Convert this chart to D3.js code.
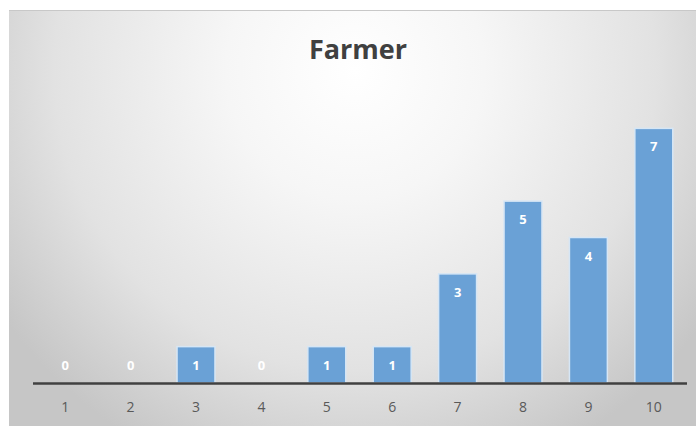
<!DOCTYPE html>
<html><head><meta charset="utf-8">
<script src="https://cdn.jsdelivr.net/npm/d3@7"></script>
<style>html,body{margin:0;padding:0;background:#fff;}svg{display:block;}</style>
</head><body>
<svg id="c" width="696" height="426"></svg>
<script>
const categories = ["1","2","3","4","5","6","7","8","9","10"];
const values = [0,0,1,0,1,1,3,5,4,7];
const title = "Farmer";

const W = 696, H = 426;
const svg = d3.select("#c");
const defs = svg.append("defs");
const g = defs.append("radialGradient").attr("id","bg")
  .attr("gradientUnits","userSpaceOnUse")
  .attr("cx",355).attr("cy",70).attr("r",430).attr("fx",355).attr("fy",70);
g.append("stop").attr("offset","0%").attr("stop-color","#ffffff");
g.append("stop").attr("offset","30%").attr("stop-color","#f6f6f6");
g.append("stop").attr("offset","70%").attr("stop-color","#e2e2e2");
g.append("stop").attr("offset","100%").attr("stop-color","#c6c6c6");

svg.append("rect").attr("x",9).attr("y",10).attr("width",W-9).attr("height",H-10)
  .attr("fill","url(#bg)");
svg.append("line").attr("x1",9).attr("x2",W).attr("y1",10.5).attr("y2",10.5)
  .attr("stroke","#c8c8c8").attr("stroke-width",1);

const x = d3.scaleBand().domain(categories).range([32.5, 686.5]).paddingInner(0.42).paddingOuter(0.21);
const y = d3.scaleLinear().domain([0, 8]).range([383, 92]);

svg.append("text").attr("x", 358).attr("y", 59).attr("text-anchor","middle")
  .attr("font-family","'Open Sans', 'Noto Sans', sans-serif").attr("font-weight","bold")
  .attr("font-size", 27).attr("fill","#404040").text(title);

svg.selectAll("rect.bar").data(values).join("rect").attr("class","bar")
  .attr("x",(d,i)=>x(categories[i])).attr("width",x.bandwidth())
  .attr("y",d=>y(d)).attr("height",d=>y(0)-y(d))
  .attr("fill","#6aa1d6").attr("stroke","#d6e6f5").attr("stroke-width",1.5)
  .attr("display",d=>d>0?null:"none");

svg.selectAll("text.lbl").data(values).join("text").attr("class","lbl")
  .attr("x",(d,i)=>x(categories[i])+x.bandwidth()/2)
  .attr("y",d=>Math.min(y(d), y(1))+23)
  .attr("text-anchor","middle").attr("font-family","'Open Sans', sans-serif")
  .attr("font-weight","bold").attr("font-size",13).attr("fill","#ffffff").text(d=>d);

const axis = d3.axisBottom(x).tickSize(0).tickPadding(19);
const ag = svg.append("g").attr("transform",`translate(0,${y(0)})`).call(axis);
ag.select(".domain").attr("stroke","#404040").attr("stroke-width",2.5);
ag.selectAll("text").attr("font-family","'Open Sans', sans-serif").attr("font-size",14)
  .attr("fill","#595959");
</script>
</body></html>
